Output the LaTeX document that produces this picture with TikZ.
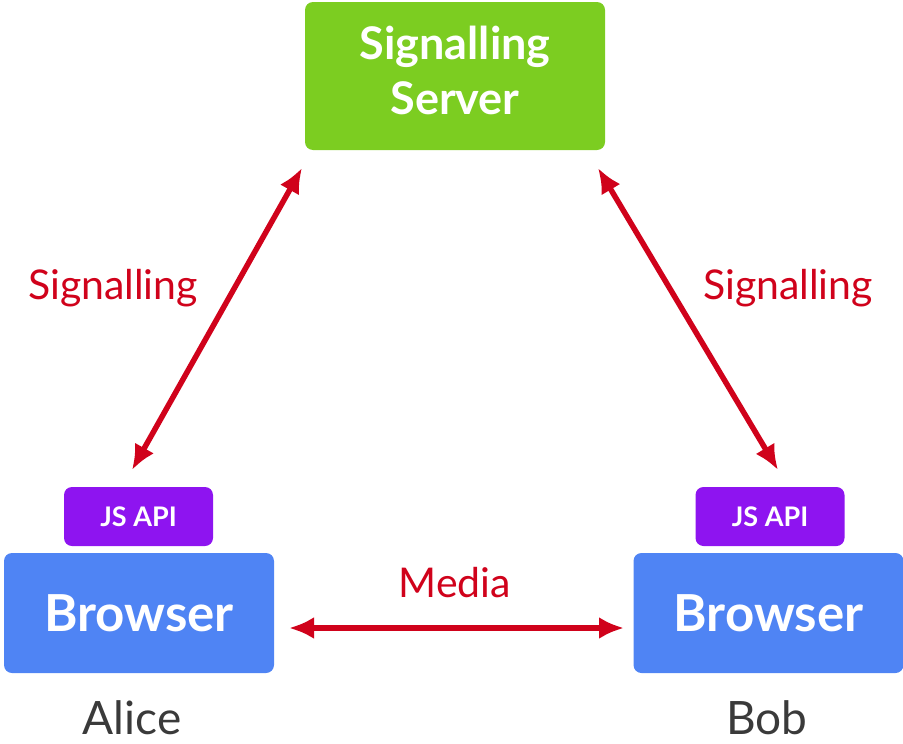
\documentclass[tikz,border=0pt]{standalone}
\usepackage{fontspec}
\setmainfont{Lato}
\usetikzlibrary{arrows.meta}
\definecolor{srvgreen}{HTML}{7CCD21}
\definecolor{apipurple}{HTML}{8E14F0}
\definecolor{brblue}{HTML}{4F84F4}
\definecolor{sigred}{HTML}{D0021B}
\definecolor{namegray}{HTML}{3A3A3A}
\tikzset{
  box/.style={rounded corners=8pt, inner sep=0pt, text=white, align=center},
  serverbox/.style={box, fill=srvgreen, minimum width=300pt, minimum height=148pt},
  apibox/.style={box, fill=apipurple, minimum width=149pt, minimum height=59pt, font=\fontsize{27}{30}\selectfont\bfseries},
  browserbox/.style={box, fill=brblue, minimum width=270pt, minimum height=120pt, font=\fontsize{51}{56}\selectfont\bfseries},
  servertext/.style={text=white, inner sep=0pt, font=\fontsize{45}{50}\selectfont\bfseries, anchor=base},
  person/.style={text=namegray, font=\fontsize{46}{50}\selectfont, inner sep=0pt, anchor=base},
  redlabel/.style={text=sigred, font=\fontsize{41}{46}\selectfont, inner sep=0pt},
  link/.style={draw=sigred, line width=5.5pt, {Latex[length=25pt,width=22pt]}-{Latex[length=25pt,width=22pt]}}
}
\begin{document}
\begin{tikzpicture}[x=1pt,y=-1pt]
\useasboundingbox (0,0) rectangle (903,744);
\node[serverbox] (server) at (455,76) {};
\node[servertext] (srvA) at (455,59) {Signalling};
\node[servertext] (srvB) at (455,114) {Server};
\node[apibox] (apiA) at (138.5,516.5) {JS API};
\node[browserbox] (brA) at (139,613) {Browser};
\node[apibox] (apiB) at (770,516.5) {JS API};
\node[browserbox] (brB) at (768.5,613) {Browser};
\node[person] (alice) at (132,734) {Alice};
\node[person] (bob) at (767,734) {Bob};
\node[redlabel] (sigL) at (113,288) {Signalling};
\node[redlabel] (sigR) at (788,288) {Signalling};
\node[redlabel] (media) at (455,583) {Media};
\coordinate (sL1) at (302,168);
\coordinate (sL2) at (132,470);
\coordinate (sR1) at (598,168);
\coordinate (sR2) at (778,470);
\coordinate (m1) at (289,628);
\coordinate (m2) at (624,628);
\draw[link] (sL1) -- (sL2);
\draw[link] (sR1) -- (sR2);
\draw[link] (m1) -- (m2);
\end{tikzpicture}
\end{document}
